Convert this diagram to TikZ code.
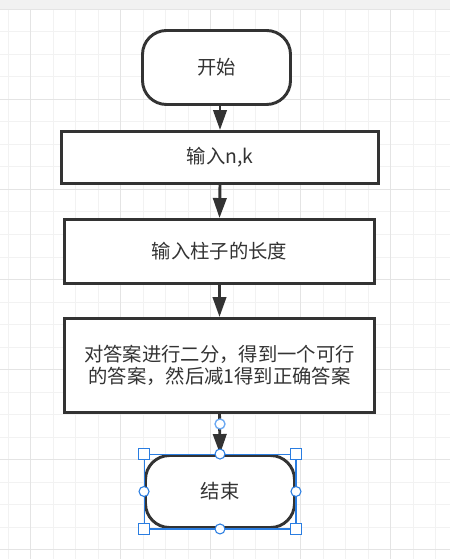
\documentclass[tikz,border=0pt]{standalone}
\usepackage{fontspec}
\newfontfamily\cjk{Noto Sans CJK SC}
\usetikzlibrary{arrows.meta}
\definecolor{gridminor}{HTML}{F2F2F2}
\definecolor{gridmajor}{HTML}{E4E4E4}
\definecolor{topband}{HTML}{F1F1F1}
\definecolor{linedark}{HTML}{333333}
\definecolor{selblue}{HTML}{2A7DE1}
\definecolor{connblue}{HTML}{6AA8F2}

\begin{document}
\begin{tikzpicture}[
    x=0.75pt, y=-0.75pt,
    terminal/.style={draw=linedark, line width=2.2pt, rounded corners=18pt, fill=white, inner sep=0pt, text=linedark, font=\cjk\fontsize{14.5}{16.5}\selectfont},
    process/.style={draw=linedark, line width=2.2pt, fill=white, inner sep=0pt, align=center, text=linedark, font=\cjk\fontsize{14.5}{16.5}\selectfont},
    arrow/.style={-{Triangle[length=15pt 0, width=10pt 0]}, line width=2.2pt, draw=linedark},
    corner/.style={draw=selblue, fill=white, line width=0.8pt, minimum size=8pt, inner sep=0pt},
    mid/.style={draw=selblue, fill=white, line width=0.8pt, circle, minimum size=7.5pt, inner sep=0pt},
]

% Canvas
\useasboundingbox (0,0) rectangle (450,559);
\fill[white] (0,0) rectangle (450,559);
\foreach \x in {8,30.5,...,450} \draw[gridminor, line width=0.75pt] (\x,9.5) -- (\x,559);
\foreach \y in {9.5,32,...,559} \draw[gridminor, line width=0.75pt] (0,\y) -- (450,\y);
\foreach \x in {30.5,120.5,...,450} \draw[gridmajor, line width=0.75pt] (\x,9.5) -- (\x,559);
\foreach \y in {99.5,189.5,...,559} \draw[gridmajor, line width=0.75pt] (0,\y) -- (450,\y);
\fill[topband] (0,0) rectangle (450,9.5);
\draw[gridmajor, line width=0.75pt] (0,9.5) -- (450,9.5);

% Steps
\node[terminal, minimum width=111pt, minimum height=55.5pt] (start) at (216.5,67.5) {开始};
\node[process, minimum width=237.75pt, minimum height=39pt] (input) at (220,157.5) {输入n,k};
\node[process, minimum width=232.5pt, minimum height=48pt] (length) at (219.5,251.5) {输入柱子的长度};
\node[process, minimum width=232.5pt, minimum height=70.5pt] (answer) at (219.5,365.5) {对答案进行二分，得到一个可行\\的答案，然后减1得到正确答案};
\node[terminal, minimum width=111.75pt, minimum height=54pt] (end) at (220,491.5) {结束};

% Flow
\draw[arrow] (input.north |- start.south) -- (input.north);
\draw[arrow] (input.south) -- (length.north);
\draw[arrow] (length.south) -- (answer.north);
\draw[arrow] (answer.south) -- (end.north);

% Selection
\node[mid, draw=connblue, line width=1pt] (source) at (220,424) {};
\draw[selblue, line width=0.8pt] (end.north west) rectangle (end.south east);
\foreach \c in {north west, north east, south west, south east} \node[corner] at (end.\c) {};
\foreach \c in {north, south, west, east} \node[mid] at (end.\c) {};

\end{tikzpicture}
\end{document}
